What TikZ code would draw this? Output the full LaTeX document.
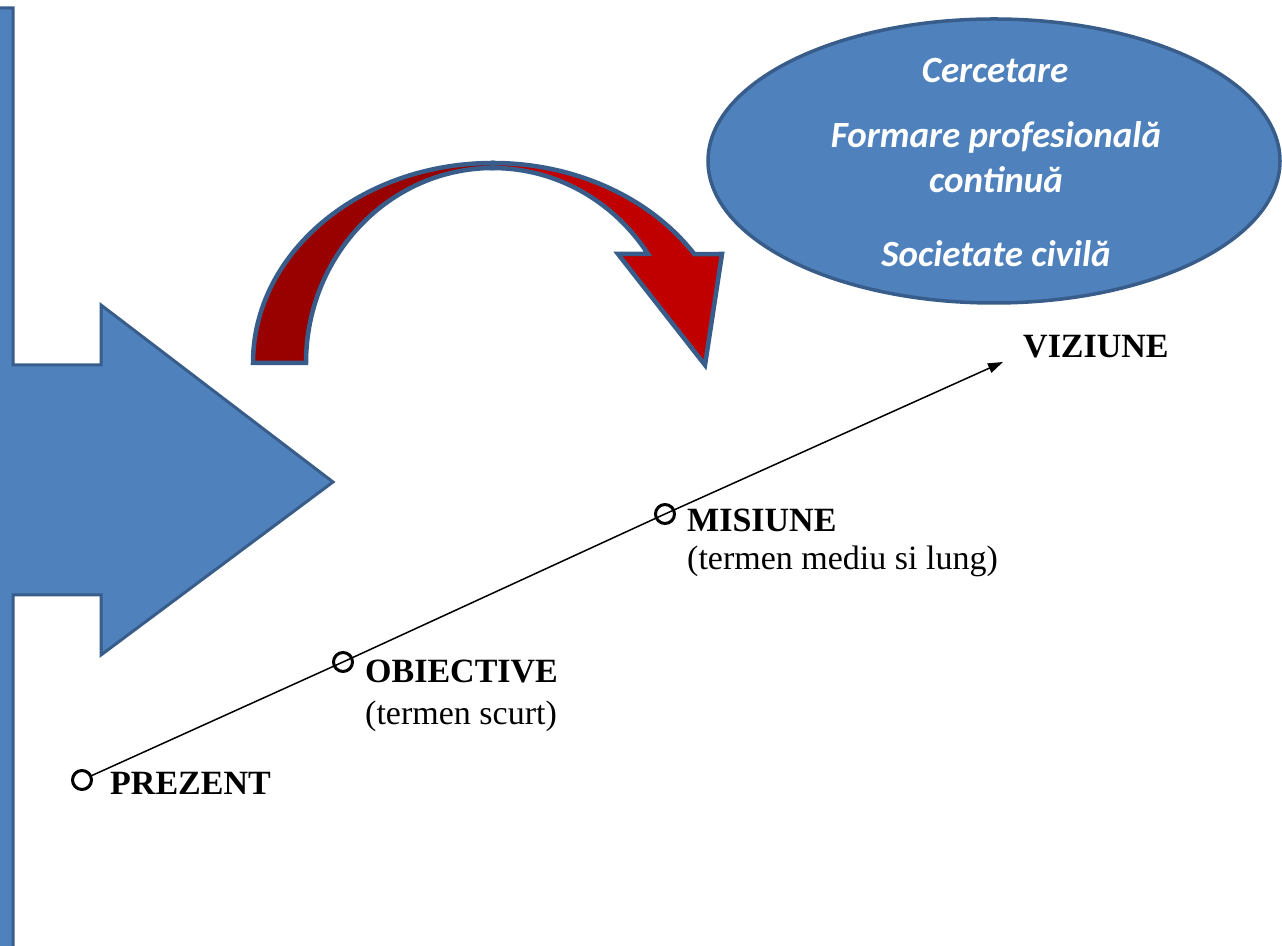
\documentclass[tikz,border=0pt]{standalone}
\usepackage{fontspec}
\setmainfont{Liberation Serif}
\newfontfamily\calib{Carlito}
\usetikzlibrary{shapes.geometric,arrows.meta}
\definecolor{bfill}{RGB}{79,129,189}
\definecolor{bline}{RGB}{56,93,138}
\definecolor{rdark}{RGB}{153,0,0}
\definecolor{rlight}{RGB}{192,0,0}
\begin{document}
\begin{tikzpicture}[x=1pt,y=1pt,
  blueshape/.style={fill=bfill, draw=bline, line width=3pt, line join=miter},
  redshape/.style={draw=bline, line width=4.5pt, line join=miter},
  ellipsetext/.style={font=\calib\bfseries\itshape\fontsize{37}{44}\selectfont, text=white, anchor=base, inner sep=0pt},
  titletext/.style={font=\bfseries\fontsize{34}{40}\selectfont, anchor=base west, inner sep=0pt},
  subtext/.style={font=\fontsize{34}{40}\selectfont, anchor=base west, inner sep=0pt},
  dot/.style={circle, draw=black, line width=3pt, minimum size=19pt, inner sep=0pt},
  timeline/.style={draw=black, line width=1.5pt}
]
\useasboundingbox (0,0) rectangle (1282,945);

% left blue bar with arrow
\begin{scope}
\clip (0,0) rectangle (1282,945);
\path[blueshape] (-10,937) -- (13,937) -- (13,580) -- (101,580) -- (101,640)
  -- (333,463) -- (101,290) -- (101,350) -- (13,350) -- (13,-10) -- (-10,-10) -- cycle;
\end{scope}

% curved red arrow
\path[redshape, fill=rlight] (493,782) arc[start angle=90, end angle=33, x radius=240pt, y radius=200pt]
  -- (722,691) -- (705,580) -- (618,691) -- (648,691)
  arc[start angle=34, end angle=90, x radius=187pt, y radius=195pt] -- cycle;
\path[redshape, fill=rdark] (253,582) arc[start angle=180, end angle=90, x radius=240pt, y radius=200pt]
  -- (493,777) arc[start angle=90, end angle=180, x radius=187pt, y radius=195pt] -- cycle;

% ellipse
\node[ellipse, fill=bfill, draw=bline, line width=3.5pt, minimum width=572pt, minimum height=284pt, inner sep=0pt] (cloud) at (994,784) {};
\node[ellipsetext] (t1) at (995,862) {Cercetare};
\node[ellipsetext] (t2) at (996,797) {Formare profesională};
\node[ellipsetext] (t3) at (996,752) {continuă};
\node[ellipsetext] (t4) at (996,678) {Societate civilă};

% timeline
\node[dot] (p) at (82,165) {};
\node[dot] (o) at (343,283) {};
\node[dot] (m) at (665,431) {};
\coordinate (vtip) at (1003,583);
\draw[timeline, -{Triangle[length=15pt,width=10pt]}] (p) -- (o.center) -- (m.center) -- (vtip);

\node[titletext] (lp) at (110,150) {PREZENT};
\node[titletext] (lo) at (365,262) {OBIECTIVE};
\node[subtext] (so) at (365,220) {(termen scurt)};
\node[titletext] (lm) at (687,413) {MISIUNE};
\node[subtext] (sm) at (687,375) {(termen mediu si lung)};
\node[titletext] (lv) at (1023,587) {VIZIUNE};
\end{tikzpicture}
\end{document}
